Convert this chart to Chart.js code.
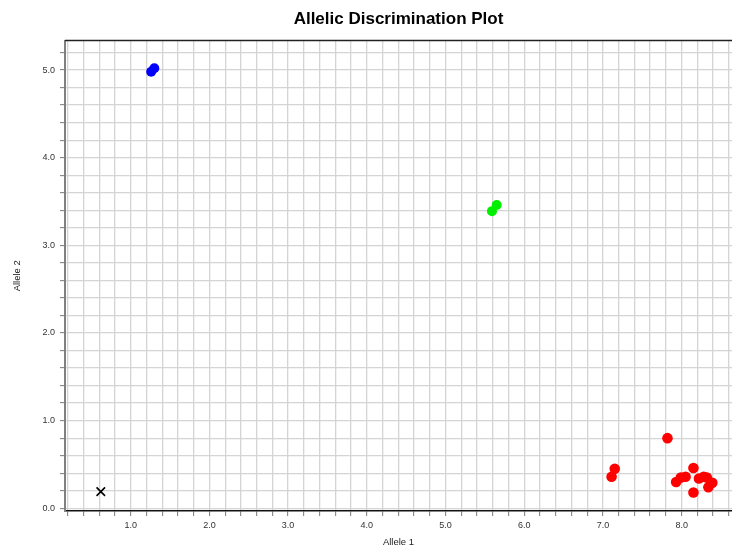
<!DOCTYPE html>
<html>
<head>
<meta charset="utf-8">
<script src="https://cdn.jsdelivr.net/npm/chart.js@4.4.0/dist/chart.umd.min.js"></script>
<style>
  html, body { margin: 0; padding: 0; background: #ffffff; }
  #wrap { width: 732px; height: 549px; }
</style>
</head>
<body>
<div id="wrap"><canvas id="c" width="732" height="549"></canvas></div>
<script>
// ---- data ----
const allele2Homo = [ {x: 1.26, y: 4.98}, {x: 1.30, y: 5.02} ];        // blue
const heterozygous = [ {x: 5.59, y: 3.39}, {x: 5.65, y: 3.46} ];      // green
const allele1Homo = [                                                  // red
  {x: 7.82, y: 0.80}, {x: 7.15, y: 0.45}, {x: 7.11, y: 0.36},
  {x: 8.15, y: 0.46}, {x: 7.93, y: 0.30}, {x: 7.99, y: 0.35},
  {x: 8.05, y: 0.36}, {x: 8.22, y: 0.34}, {x: 8.28, y: 0.36},
  {x: 8.32, y: 0.35}, {x: 8.39, y: 0.29}, {x: 8.34, y: 0.24},
  {x: 8.15, y: 0.18}
];
const noTemplate = [ {x: 0.62, y: 0.19} ];                             // black X

const xTickLabels = ['1.0','2.0','3.0','4.0','5.0','6.0','7.0','8.0'];
const yTickLabels = ['0.0','1.0','2.0','3.0','4.0','5.0'];
const gridStep = 0.2;
const xRange = [0.165, 8.64];
const yRange = [-0.031, 5.337];

function gridTicks(min, max) {
  const out = [];
  const start = Math.ceil(min / gridStep - 1e-9);
  for (let i = start; i * gridStep <= max + 1e-9; i++) {
    out.push({ value: Math.round(i * gridStep * 1000) / 1000 });
  }
  return out;
}
function labelFor(labels) {
  return function (v) {
    const s = Number(v).toFixed(1);
    return labels.includes(s) && Math.abs(v - Math.round(v)) < 1e-6 ? s : '';
  };
}

const topBorder = {
  id: 'topBorder',
  afterDraw(chart) {
    const { ctx, chartArea } = chart;
    ctx.save();
    ctx.strokeStyle = '#222222';
    ctx.lineWidth = 1.5;
    ctx.beginPath();
    ctx.moveTo(chartArea.left, chartArea.top);
    ctx.lineTo(chartArea.right, chartArea.top);
    ctx.stroke();
    ctx.restore();
  }
};

const tickFont = { family: "'Liberation Sans', Arial, sans-serif", size: 9 };
const titleFont = { family: "'Liberation Sans', Arial, sans-serif", size: 9.5 };

new Chart(document.getElementById('c'), {
  type: 'scatter',
  data: {
    datasets: [
      { label: 'Allele 2', data: allele2Homo, backgroundColor: '#0000ff', borderColor: '#0000ff', pointRadius: 5, borderWidth: 0 },
      { label: 'Both', data: heterozygous, backgroundColor: '#00ee00', borderColor: '#00ee00', pointRadius: 5, borderWidth: 0 },
      { label: 'Allele 1', data: allele1Homo, backgroundColor: '#ff0000', borderColor: '#ff0000', pointRadius: 5.3, borderWidth: 0 },
      { label: 'NTC', data: noTemplate, pointStyle: 'crossRot', backgroundColor: '#000000', borderColor: '#000000', pointRadius: 6, borderWidth: 1.6 }
    ]
  },
  options: {
    responsive: false,
    animation: false,
    devicePixelRatio: 1,
    layout: { autoPadding: false, padding: { left: 0, right: 0, top: 0, bottom: 0 } },
    plugins: {
      legend: { display: false },
      tooltip: { enabled: false },
      title: {
        display: true,
        fullSize: false,
        text: 'Allelic Discrimination Plot',
        color: '#000000',
        font: { family: "'Liberation Sans', Arial, sans-serif", size: 17, weight: 'bold', lineHeight: 1 },
        padding: { top: 10.5, bottom: 13 }
      }
    },
    scales: {
      x: {
        type: 'linear',
        min: xRange[0], max: xRange[1],
        afterBuildTicks(axis) { axis.ticks = gridTicks(xRange[0], xRange[1]); },
        afterFit(scale) { scale.height = 38; scale.paddingLeft = 0; scale.paddingRight = 0; },
        ticks: { autoSkip: false, maxRotation: 0, color: '#333333', font: tickFont, padding: 4, callback: labelFor(xTickLabels) },
        grid: { color: '#d4d4d4', lineWidth: 1.3, drawTicks: true, tickLength: 5, tickColor: '#777777', tickWidth: 1 },
        border: { display: true, color: '#111111', width: 1.5 },
        title: { display: true, text: 'Allele 1', color: '#222222', font: titleFont, padding: { top: 0, bottom: 1 } }
      },
      y: {
        type: 'linear',
        min: yRange[0], max: yRange[1],
        afterBuildTicks(axis) { axis.ticks = gridTicks(yRange[0], yRange[1]); },
        afterFit(scale) { scale.width = 65; scale.paddingTop = 0; scale.paddingBottom = 0; },
        ticks: { autoSkip: false, color: '#333333', font: tickFont, padding: 5, callback: labelFor(yTickLabels) },
        grid: { color: '#d4d4d4', lineWidth: 1.3, drawTicks: true, tickLength: 5, tickColor: '#777777', tickWidth: 1 },
        border: { display: true, color: '#808080', width: 2 },
        title: { display: true, text: 'Allele 2', color: '#222222', font: titleFont, padding: { top: 12, bottom: 0 } }
      }
    }
  },
  plugins: [topBorder]
});
</script>
</body>
</html>
